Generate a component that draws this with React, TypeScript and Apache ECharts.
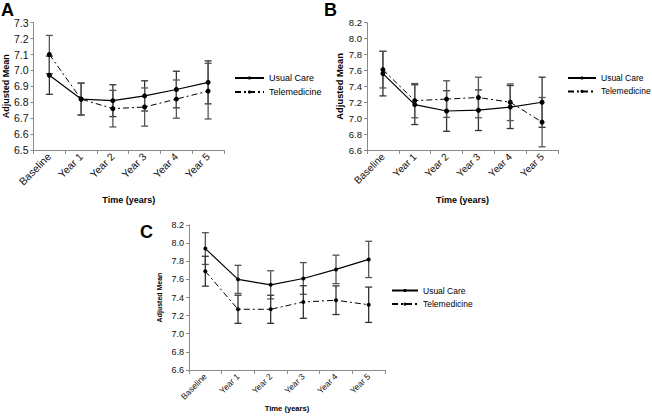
import React, { useEffect, useRef } from "react";
import * as echarts from "echarts";

const categories = ["Baseline", "Year 1", "Year 2", "Year 3", "Year 4", "Year 5"];
const seriesNames = ["Usual Care", "Telemedicine"];

// Panel A
const aUsualMean = [6.97, 6.82, 6.81, 6.84, 6.88, 6.925];
const aUsualErr = [0.12, 0.1, 0.1, 0.095, 0.115, 0.135];
const aTeleMean = [7.1, 6.82, 6.76, 6.77, 6.82, 6.87];
const aTeleErr = [0.12, 0.1, 0.115, 0.12, 0.12, 0.175];

// Panel B
const bUsualMean = [7.56, 7.17, 7.09, 7.1, 7.14, 7.2];
const bUsualErr = [0.28, 0.25, 0.255, 0.255, 0.27, 0.315];
const bTeleMean = [7.61, 7.22, 7.24, 7.26, 7.2, 6.95];
const bTeleErr = [0.23, 0.215, 0.23, 0.255, 0.23, 0.31];

// Panel C
const cUsualMean = [7.94, 7.6, 7.54, 7.61, 7.71, 7.82];
const cUsualErr = [0.175, 0.155, 0.155, 0.175, 0.157, 0.2];
const cTeleMean = [7.69, 7.27, 7.27, 7.35, 7.37, 7.32];
const cTeleErr = [0.165, 0.155, 0.155, 0.18, 0.158, 0.195];

const aAxis = { min: 6.5, max: 7.3, interval: 0.1 };
const bAxis = { min: 6.6, max: 8.2, interval: 0.2 };
const cAxis = { min: 6.6, max: 8.2, interval: 0.2 };

const yName = "Adjusted Mean";
const xName = "Time (years)";

const FONT = "'Liberation Sans', Arial, Helvetica, sans-serif";
const AXIS_COLOR = "#8a8a8a";

function errData(mean: number[], err: number[]) {
  return mean.map((m, i) => [i, m - err[i], m + err[i]]);
}

function errSeries(idx: number, mean: number[], err: number[], color: string, cap: number) {
  return {
    type: "custom",
    xAxisIndex: idx,
    yAxisIndex: idx,
    silent: true,
    z: 1,
    encode: { x: 0, y: [1, 2] },
    data: errData(mean, err),
    renderItem: (params: any, api: any) => {
      const x = api.value(0);
      const lo = api.coord([x, api.value(1)]);
      const hi = api.coord([x, api.value(2)]);
      const style = { stroke: color, lineWidth: 1.3 };
      return {
        type: "group",
        children: [
          { type: "line", shape: { x1: hi[0], y1: hi[1], x2: lo[0], y2: lo[1] }, style },
          { type: "line", shape: { x1: hi[0] - cap, y1: hi[1], x2: hi[0] + cap, y2: hi[1] }, style },
          { type: "line", shape: { x1: lo[0] - cap, y1: lo[1], x2: lo[0] + cap, y2: lo[1] }, style },
        ],
      };
    },
  };
}

function lineSeries(idx: number, name: string, data: number[], dashed: boolean, sym: number) {
  return {
    type: "line",
    name,
    xAxisIndex: idx,
    yAxisIndex: idx,
    data,
    z: 3,
    symbol: "circle",
    symbolSize: sym,
    itemStyle: { color: "#000" },
    lineStyle: { color: "#000", width: dashed ? 1 : 1.2, type: dashed ? [6, 3, 2, 3] : "solid" },
  };
}

function xAxisCfg(idx: number, labelSize: number, nameSize: number, nameGap: number) {
  return {
    type: "category",
    gridIndex: idx,
    data: categories,
    boundaryGap: true,
    name: xName,
    nameLocation: "middle",
    nameGap,
    nameTextStyle: { fontFamily: FONT, fontSize: nameSize, fontWeight: "bold", color: "#000" },
    axisLine: { lineStyle: { color: AXIS_COLOR, width: 1 } },
    axisTick: { show: true, length: 4, lineStyle: { color: AXIS_COLOR } },
    axisLabel: { interval: 0, rotate: 45, margin: 5, fontFamily: FONT, fontSize: labelSize, color: "#111" },
    splitLine: { show: false },
  };
}

function yAxisCfg(idx: number, ax: any, labelSize: number, nameSize: number, nameGap: number) {
  return {
    type: "value",
    gridIndex: idx,
    min: ax.min,
    max: ax.max,
    interval: ax.interval,
    name: yName,
    nameLocation: "middle",
    nameGap,
    nameTextStyle: { fontFamily: FONT, fontSize: nameSize, fontWeight: "bold", color: "#000" },
    axisLine: { show: true, lineStyle: { color: AXIS_COLOR, width: 1 } },
    axisTick: { show: true, length: 3, lineStyle: { color: AXIS_COLOR } },
    axisLabel: {
      margin: 5,
      fontFamily: FONT,
      fontSize: labelSize,
      color: "#111",
      formatter: (v: number) => v.toFixed(1),
    },
    splitLine: { show: false },
  };
}

function legendCfg(left: number, top: number, w: number, fs: number, lh: number, gap: number) {
  return {
    data: seriesNames,
    orient: "vertical",
    left,
    top,
    padding: 0,
    itemWidth: w,
    itemHeight: 4,
    itemGap: gap,
    selectedMode: false,
    textStyle: { fontFamily: FONT, fontSize: fs, lineHeight: lh, color: "#000" },
  };
}

export default function App() {
  const ref = useRef<HTMLDivElement>(null);
  useEffect(() => {
    if (!ref.current) return;
    const chart = echarts.init(ref.current, null, { renderer: "svg" });
    chart.setOption({
      animation: false,
      backgroundColor: "#fff",
      title: [
        { text: "A", left: 1, top: 1, padding: 0, textStyle: { fontFamily: FONT, fontSize: 18, fontWeight: "bold", color: "#000" } },
        { text: "B", left: 324, top: 1, padding: 0, textStyle: { fontFamily: FONT, fontSize: 18, fontWeight: "bold", color: "#000" } },
        { text: "C", left: 140, top: 223, padding: 0, textStyle: { fontFamily: FONT, fontSize: 18, fontWeight: "bold", color: "#000" } },
      ],
      legend: [
        legendCfg(234, 72, 29, 9, 12, 2),
        legendCfg(567, 72.5, 28, 8.5, 11, 2.4),
        legendCfg(391, 285, 26, 8.5, 11, 2.6),
      ],
      grid: [
        { left: 33, top: 22.7, width: 191, height: 127.3 },
        { left: 367, top: 22.7, width: 191, height: 127.3 },
        { left: 189, top: 225, width: 196, height: 145 },
      ],
      xAxis: [xAxisCfg(0, 10.5, 9, 45), xAxisCfg(1, 10, 9, 45), xAxisCfg(2, 8.5, 7.6, 30)],
      yAxis: [
        yAxisCfg(0, aAxis, 10.5, 9, 22),
        yAxisCfg(1, bAxis, 9.5, 9.4, 23),
        yAxisCfg(2, cAxis, 9, 7, 26),
      ],
      series: [
        errSeries(0, aUsualMean, aUsualErr, "#333", 3.5),
        errSeries(0, aTeleMean, aTeleErr, "#555", 3.5),
        lineSeries(0, "Usual Care", aUsualMean, false, 5),
        lineSeries(0, "Telemedicine", aTeleMean, true, 5),
        errSeries(1, bUsualMean, bUsualErr, "#333", 3.5),
        errSeries(1, bTeleMean, bTeleErr, "#555", 3.5),
        lineSeries(1, "Usual Care", bUsualMean, false, 5),
        lineSeries(1, "Telemedicine", bTeleMean, true, 5),
        errSeries(2, cUsualMean, cUsualErr, "#555", 3.5),
        errSeries(2, cTeleMean, cTeleErr, "#333", 3.5),
        lineSeries(2, "Usual Care", cUsualMean, false, 4),
        lineSeries(2, "Telemedicine", cTeleMean, true, 4),
      ],
    });
    return () => chart.dispose();
  }, []);
  return (
    <div
      ref={ref}
      style={{ position: "absolute", left: 0, top: 0, width: 652, height: 419, background: "#fff" }}
    />
  );
}
